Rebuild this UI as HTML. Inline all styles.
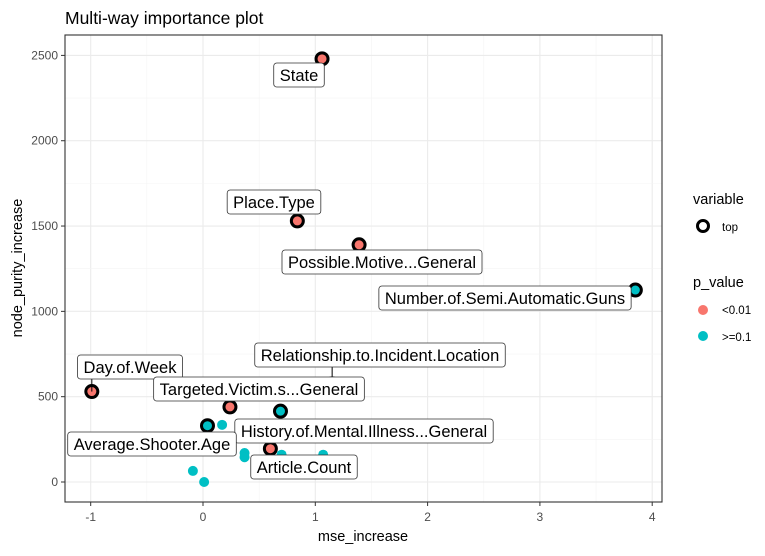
<!DOCTYPE html>
<html><head><meta charset="utf-8"><style>
body{margin:0;background:#fff;}
svg{font-family:"Liberation Sans",Arial,sans-serif;}
</style></head><body>
<svg id="chart" width="765" height="551" xmlns="http://www.w3.org/2000/svg">
<text x="65" y="24" font-size="17.5" fill="#000">Multi-way importance plot</text>
<rect x="65" y="35" width="597" height="467" fill="#fff"/>
<g id="grid"></g><g id="axes"></g><g id="marks"></g><g id="labels"></g>
<rect x="65" y="35" width="597" height="467" fill="none" stroke="#333" stroke-width="1.1"/>
<text x="363" y="541" font-size="14.5" text-anchor="middle">mse_increase</text>
<text transform="translate(22,268) rotate(-90)" font-size="14.5" text-anchor="middle">node_purity_increase</text>
<g>
<text x="693" y="204" font-size="14.5">variable</text>
<circle cx="703" cy="226" r="5.5" fill="none" stroke="#000" stroke-width="3"/>
<text x="722" y="231" font-size="11.5">top</text>
<text x="693" y="287" font-size="14.5">p_value</text>
<circle cx="703" cy="310" r="5" fill="#F8766D"/>
<text x="722" y="314" font-size="11.5">&lt;0.01</text>
<circle cx="703" cy="336" r="5" fill="#00BFC4"/>
<text x="722" y="341" font-size="11.5">&gt;=0.1</text>
</g>
</svg>
<script>
const xTicks=[-1,0,1,2,3,4];
const yTicks=[0,500,1000,1500,2000,2500];
const topNames=["State","Place.Type","Possible.Motive...General","Number.of.Semi.Automatic.Guns","Relationship.to.Incident.Location","Day.of.Week","Targeted.Victim.s...General","History.of.Mental.Illness...General","Average.Shooter.Age","Article.Count"];
const topX=[1.06,0.84,1.39,3.85,1.15,-0.99,0.24,0.69,0.04,0.60];
const topY=[2480,1530,1390,1125,575,530,440,415,330,195];
const topP=["low","low","low","high","low","low","low","high","high","low"];
const otherX=[0.17,0.37,0.37,0.70,1.07,-0.09,0.01];
const otherY=[335,170,145,160,160,65,0];
const otherP=["high","high","high","high","high","high","high"];
const labelCX=[299,274,382,505,380,130,259,364,152,304];
const labelCY=[75,202,262,298,355,367,389,431,444,467];

const sx=v=>203+112.3*v, sy=v=>482-0.17064*v;
const NS="http://www.w3.org/2000/svg";
function mk(t,a,p){const e=document.createElementNS(NS,t);for(const k in a)e.setAttribute(k,a[k]);p.appendChild(e);return e;}
const grid=document.getElementById('grid'),axes=document.getElementById('axes'),marks=document.getElementById('marks'),labels=document.getElementById('labels');
const col={low:"#F8766D",high:"#00BFC4"};
for(let i=0;i<xTicks.length;i++){
  const x=sx(xTicks[i]);
  const g=mk('line',{x1:x,x2:x,y1:35,y2:502,stroke:'#ebebeb','stroke-width':1.1},grid);
  
  if(i<xTicks.length-1){const m=sx(xTicks[i]+0.5);const gm=mk('line',{x1:m,x2:m,y1:35,y2:502,stroke:'#f4f4f4','stroke-width':0.6},grid);
  }
  const t=mk('line',{x1:x,x2:x,y1:502,y2:506,stroke:'#333'},axes);
  
  const l=mk('text',{x:x,y:521,'font-size':12,fill:'#4d4d4d','text-anchor':'middle'},axes);l.textContent=xTicks[i];
  
}
for(let i=0;i<yTicks.length;i++){
  const y=sy(yTicks[i]);
  const g=mk('line',{x1:65,x2:662,y1:y,y2:y,stroke:'#ebebeb','stroke-width':1.1},grid);
  
  if(i<yTicks.length-1){const m=sy(yTicks[i]+250);const gm=mk('line',{x1:65,x2:662,y1:m,y2:m,stroke:'#f4f4f4','stroke-width':0.6},grid);
  }
  const t=mk('line',{x1:61,x2:65,y1:y,y2:y,stroke:'#333'},axes);
  
  const l=mk('text',{x:58,y:y+4,'font-size':12,fill:'#4d4d4d','text-anchor':'end'},axes);l.textContent=yTicks[i];
  
}
for(let i=0;i<otherX.length;i++){
  const c=mk('circle',{cx:sx(otherX[i]),cy:sy(otherY[i]),r:5,fill:col[otherP[i]]},marks);
  
}
for(let i=0;i<topX.length;i++){
  const px=sx(topX[i]),py=sy(topY[i]);
  const c=mk('circle',{cx:px,cy:py,r:6,fill:col[topP[i]],stroke:'#000','stroke-width':3},marks);
  
}
for(let i=0;i<topNames.length;i++){
  const px=sx(topX[i]),py=sy(topY[i]);
  const g=mk('g',{},labels);
  
  const t=mk('text',{x:labelCX[i],y:labelCY[i]+6,'font-size':16.5,'text-anchor':'middle',fill:'#000'},g);
  t.textContent=topNames[i];
  const w=t.getComputedTextLength()+12,h=24;
  const bx=labelCX[i]-w/2,by=labelCY[i]-h/2;
  const cx=Math.max(bx,Math.min(px,bx+w)),cy=Math.max(by,Math.min(py,by+h));
  const d=Math.hypot(cx-px,cy-py);
  if(d>9){const ln=mk('line',{x1:px,y1:py,x2:cx,y2:cy,stroke:'#000','stroke-width':1},g);labels.insertBefore(ln,labels.firstChild);
    }
  const r=mk('rect',{x:bx,y:by,width:w,height:h,rx:3,fill:'#fff',stroke:'#333','stroke-width':0.8},g);
  g.insertBefore(r,t);
  
}
</script>
</body></html>
